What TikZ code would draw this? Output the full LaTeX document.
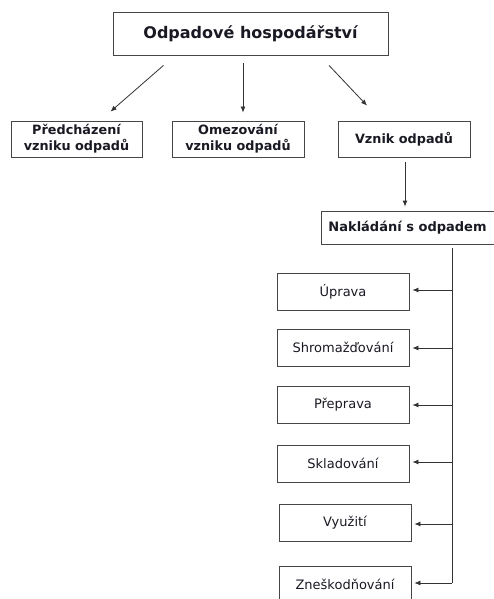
\documentclass[tikz,border=0pt]{standalone}
\usepackage{fontspec}
\setmainfont{DejaVu Sans}
\usetikzlibrary{arrows.meta, positioning}
\definecolor{boxgray}{RGB}{70,70,70}
\definecolor{textdark}{RGB}{25,25,35}

\begin{document}
\begin{tikzpicture}[
    x=1pt,y=-1pt,
    box/.style={draw=boxgray,thick,inner sep=0pt,align=center,text=textdark},
    headbox/.style={box,font=\fontsize{16}{19}\selectfont\bfseries},
    midbox/.style={box,minimum width=132pt,minimum height=36pt,font=\fontsize{12.8}{16}\selectfont\bfseries},
    leafbox/.style={box,minimum width=132pt,minimum height=37pt,font=\fontsize{13}{15}\selectfont},
    arrow/.style={-{Latex[length=6pt,width=5pt]},thick,black!80}
]
    \useasboundingbox (0,0) rectangle (493,599);

    % Top of the tree
    \node[headbox,minimum width=275pt,minimum height=43pt] (odpad) at (250.5,33.5) {Odpadové hospodářství};

    % Second row
    \node[midbox,minimum width=131pt] (predch) at (76.5,139) {Předcházení\\vzniku odpadů};
    \node[midbox] (omez) at (238,139) {Omezování\\vzniku odpadů};
    \node[midbox] (vznik) at (404,139) {Vznik odpadů};

    \draw[arrow] ([xshift=-87pt,yshift=-10pt]odpad.south) -- ([xshift=34pt,yshift=9pt]predch.north);
    \draw[arrow] ([xshift=-7.5pt,yshift=-8pt]odpad.south) -- ([xshift=5pt,yshift=8pt]omez.north);
    \draw[arrow] ([xshift=78.5pt,yshift=-10pt]odpad.south) -- ([xshift=-37pt,yshift=15pt]vznik.north);

    % Handling of waste
    \node[box,minimum width=173pt,minimum height=33pt,font=\fontsize{13}{15}\selectfont\bfseries] (naklad) at (407.5,227.5) {Nakládání s odpadem};
    \draw[arrow,shorten <=5pt,shorten >=4pt] (vznik.south -| 405,0) -- (naklad.north -| 405,0);

    % Leaves
    \node[leafbox] (uprava) at (343,291.5) {Úprava};
    \node[leafbox] (shrom) at (343,347.5) {Shromažďování};
    \node[leafbox] (preprava) at (343,404.5) {Přeprava};
    \node[leafbox] (sklad) at (343,463.5) {Skladování};
    \node[leafbox] (vyuziti) at (345,522.5) {Využití};
    \node[leafbox] (znesk) at (345,584.5) {Zneškodňování};

    \coordinate (trunk) at (452,248);
    \draw[thick,black!80] (trunk) -- (trunk |- 0,583);
    \foreach \leaf/\ypos in {uprava/290,shrom/348,preprava/405,sklad/462,vyuziti/524,znesk/583}
        \draw[arrow,shorten >=3pt] (trunk |- 0,\ypos) -- (\leaf.east |- 0,\ypos);
\end{tikzpicture}
\end{document}
